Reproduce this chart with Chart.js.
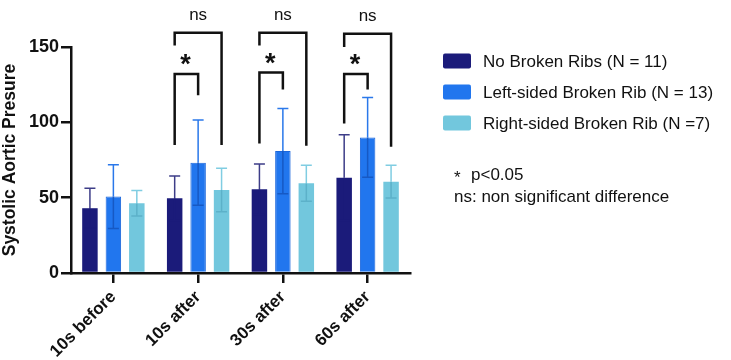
<!DOCTYPE html>
<html>
<head>
<meta charset="utf-8">
<script src="https://cdn.jsdelivr.net/npm/chart.js@4.4.1/dist/chart.umd.min.js"></script>
<style>
  html, body { margin: 0; padding: 0; background: #fff; }
  #wrap { width: 731px; height: 360px; }
</style>
</head>
<body>
<div id="wrap"><canvas id="chart"></canvas></div>
<script>
const categories = ['10s before', '10s after', '30s after', '60s after'];
const seriesNames = ['No Broken Ribs (N = 11)', 'Left-sided Broken Rib (N = 13)', 'Right-sided Broken Rib (N =7)'];
const noBroken = [43, 49.6, 55.6, 63.3];
const noBrokenSd = [13.2, 14.8, 16.7, 28.4];
const leftSided = [50.7, 73.2, 80.9, 90];
const leftSidedSd = [21.2, 28.3, 28.3, 26.5];
const rightSided = [46.3, 55.1, 59.6, 60.6];
const rightSidedSd = [8.4, 14.4, 11.9, 10.9];
const yTicks = [0, 50, 100, 150];

// significance brackets (category index, levels in y units)
const compIndex = [1, 2, 3];
const nsTop = [159.5, 159.5, 158.8];
const nsLeftEnd = [151, 151, 150];
const nsRightEnd = [85, 84.5, 83.8];
const starTop = [132, 133, 132];
const starLeftEnd = [85, 86, 99.3];
const starRightEnd = [118, 121.8, 121.8];

const FONT = "'Liberation Sans', Arial, Helvetica, sans-serif";
const colors = ['#1b1b7a', '#2176ee', '#72c7dd'];
const upperWhisker = ['#3d3d88', '#2a78ea', '#80cde2'];
const lowerWhisker = ['#1b1b7a', '#1659c4', '#5cb1c9'];
const sds = [noBrokenSd, leftSidedSd, rightSidedSd];

const errorBars = {
  id: 'errorBars',
  afterDatasetsDraw(chart) {
    const ctx = chart.ctx, y = chart.scales.y;
    ctx.save();
    ctx.lineWidth = 1.5;
    chart.data.datasets.forEach((ds, d) => {
      chart.getDatasetMeta(d).data.forEach((bar, i) => {
        const v = ds.data[i], sd = sds[d][i];
        const top = y.getPixelForValue(v + sd), bot = y.getPixelForValue(v - sd);
        ctx.strokeStyle = lowerWhisker[d];
        ctx.beginPath();
        ctx.moveTo(bar.x, bar.y); ctx.lineTo(bar.x, bot);
        ctx.moveTo(bar.x - 5.5, bot); ctx.lineTo(bar.x + 5.5, bot);
        ctx.stroke();
        ctx.strokeStyle = upperWhisker[d];
        ctx.beginPath();
        ctx.moveTo(bar.x, bar.y); ctx.lineTo(bar.x, top);
        ctx.moveTo(bar.x - 5.5, top); ctx.lineTo(bar.x + 5.5, top);
        ctx.stroke();
      });
    });
    ctx.restore();
  }
};

const extras = {
  id: 'extras',
  afterDraw(chart) {
    const ctx = chart.ctx, y = chart.scales.y;
    const m0 = chart.getDatasetMeta(0), m1 = chart.getDatasetMeta(1), m2 = chart.getDatasetMeta(2);
    ctx.save();
    ctx.strokeStyle = '#111';
    ctx.lineWidth = 2.5;
    ctx.fillStyle = '#111';
    compIndex.forEach((ci, k) => {
      const xa = m0.data[ci].x, xb = m1.data[ci].x, xc = m2.data[ci].x;
      // ns bracket
      ctx.beginPath();
      ctx.moveTo(xa, y.getPixelForValue(nsLeftEnd[k]));
      ctx.lineTo(xa, y.getPixelForValue(nsTop[k]));
      ctx.lineTo(xc, y.getPixelForValue(nsTop[k]));
      ctx.lineTo(xc, y.getPixelForValue(nsRightEnd[k]));
      ctx.stroke();
      // * bracket
      ctx.beginPath();
      ctx.moveTo(xa, y.getPixelForValue(starLeftEnd[k]));
      ctx.lineTo(xa, y.getPixelForValue(starTop[k]));
      ctx.lineTo(xb, y.getPixelForValue(starTop[k]));
      ctx.lineTo(xb, y.getPixelForValue(starRightEnd[k]));
      ctx.stroke();
      ctx.textAlign = 'center';
      ctx.textBaseline = 'alphabetic';
      ctx.font = '17px ' + FONT;
      ctx.fillText('ns', (xa + xc) / 2, y.getPixelForValue(nsTop[k]) - 13);
      ctx.font = 'bold 27px ' + FONT;
      ctx.fillText('*', (xa + xb) / 2 - 1, y.getPixelForValue(starTop[k]) - 1);
    });
    // legend
    ctx.textAlign = 'left';
    ctx.textBaseline = 'middle';
    ctx.font = '17px ' + FONT;
    const rowY = [61, 92, 123];
    chart.data.datasets.forEach((ds, d) => {
      ctx.fillStyle = ds.backgroundColor;
      ctx.beginPath();
      ctx.roundRect(443, rowY[d] - 7.5, 28, 15, 2);
      ctx.fill();
      ctx.fillStyle = '#111';
      ctx.fillText(ds.label, 483, rowY[d] + 1);
    });
    ctx.fillText('*', 454, 178);
    ctx.fillText('p<0.05', 471, 175);
    ctx.fillText('ns: non significant difference', 454, 197);
    ctx.restore();
  }
};

new Chart(document.getElementById('chart'), {
  type: 'bar',
  data: {
    labels: categories,
    datasets: [
      { label: seriesNames[0], data: noBroken, backgroundColor: colors[0] },
      { label: seriesNames[1], data: leftSided, backgroundColor: colors[1], borderColor: '#1a66dc', borderWidth: 1 },
      { label: seriesNames[2], data: rightSided, backgroundColor: colors[2] }
    ]
  },
  options: {
    responsive: true,
    maintainAspectRatio: false,
    animation: false,
    categoryPercentage: 0.83,
    barPercentage: 0.66,
    layout: { padding: { top: 47, right: 321, left: 0, bottom: 0 } },
    plugins: { legend: { display: false }, tooltip: { enabled: false } },
    scales: {
      x: {
        afterFit(scale) { scale.height = 87; },
        border: { color: '#111', width: 2.5 },
        grid: { display: true, drawOnChartArea: false, offset: false, tickLength: 10, color: '#111', lineWidth: 2.5 },
        ticks: { color: '#111', minRotation: 45, maxRotation: 45, padding: 4, font: { family: FONT, size: 17, weight: 'bold' } }
      },
      y: {
        min: 0, max: 150,
        afterFit(scale) { scale.width = 71; },
        afterBuildTicks(scale) { scale.ticks = yTicks.map(v => ({ value: v })); },
        border: { color: '#111', width: 2.5 },
        grid: { display: true, drawOnChartArea: false, tickLength: 10, color: '#111', lineWidth: 2.5 },
        ticks: { color: '#111', padding: 2, font: { family: FONT, size: 18, weight: 'bold' } },
        title: { display: true, text: 'Systolic Aortic Presure', color: '#111', padding: 0, font: { family: FONT, size: 17.5, weight: 'bold' } }
      }
    }
  },
  plugins: [errorBars, extras]
});
</script>
</body>
</html>
